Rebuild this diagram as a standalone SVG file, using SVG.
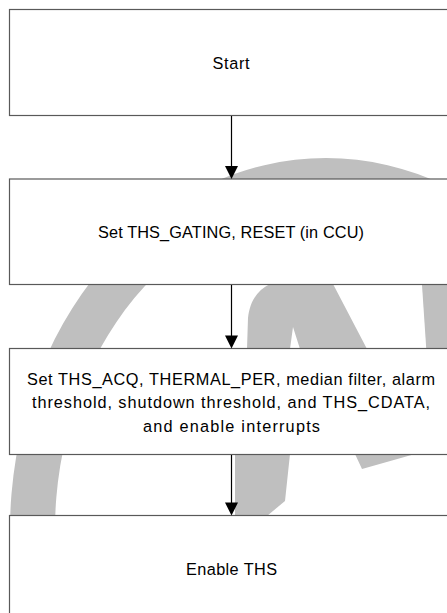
<svg xmlns="http://www.w3.org/2000/svg" width="447" height="613" viewBox="0 0 447 613">
<style>
.box{fill:#ffffff;stroke:#595959;stroke-width:1.2}
.wm{fill:#bfbfbf}
.lbl{font-family:"Liberation Sans",Arial,sans-serif;font-size:16.3px;fill:#000000;text-anchor:middle}
.conn line{stroke:#000000;stroke-width:1.2}
.conn path{fill:#000000}
</style>
<rect x="0" y="0" width="447" height="613" fill="#ffffff"/>
<g id="watermark">
<path class="wm" fill-rule="evenodd" d="M 10 530 A 316 372 0 1 1 642 530 A 316 372 0 1 1 10 530 Z M 55 530 A 271 328 0 1 0 597 530 A 271 328 0 1 0 55 530 Z"/>
<path class="wm" d="M 270 262 L 338 262 L 333 284 L 367 349 L 415 454 L 362 469 L 355 454 L 300 349 L 293 327 L 290 349 L 290 454 L 285 501 L 267 516 L 235 516 L 235 454 L 247 349 L 248 318 C 250 300 258 290 270 284 Z"/>
<path class="wm" d="M 421 270 L 450 270 L 450 360 L 427 360 Z"/>
</g>
<g id="node-start">
<rect class="box" x="9.5" y="9.5" width="460" height="106"/>
<text class="lbl" x="231" y="69" textLength="37">Start</text>
</g>
<g id="node-gating">
<rect class="box" x="9.5" y="179" width="460" height="105.5"/>
<text class="lbl" x="231" y="238.3" textLength="266">Set THS_GATING, RESET (in CCU)</text>
</g>
<g id="node-config">
<rect class="box" x="9.5" y="348.5" width="460" height="106"/>
<text class="lbl" x="231" y="384.5" textLength="408">Set THS_ACQ, THERMAL_PER, median filter, alarm</text>
<text class="lbl" x="231" y="408" textLength="398">threshold, shutdown threshold, and THS_CDATA,</text>
<text class="lbl" x="231.5" y="431.5" textLength="177">and enable interrupts</text>
</g>
<g id="node-enable">
<rect class="box" x="9.5" y="515.5" width="460" height="130"/>
<text class="lbl" x="231.5" y="575" textLength="91">Enable THS</text>
</g>
<g class="conn" id="connectors">
<line x1="231.5" y1="116" x2="231.5" y2="167"/>
<path d="M 225 166 L 238 166 L 231.5 179 Z"/>
<line x1="231.5" y1="285" x2="231.5" y2="336"/>
<path d="M 225 335.5 L 238 335.5 L 231.5 348.5 Z"/>
<line x1="231.5" y1="455" x2="231.5" y2="503"/>
<path d="M 225 502.5 L 238 502.5 L 231.5 515.5 Z"/>
</g>
</svg>
